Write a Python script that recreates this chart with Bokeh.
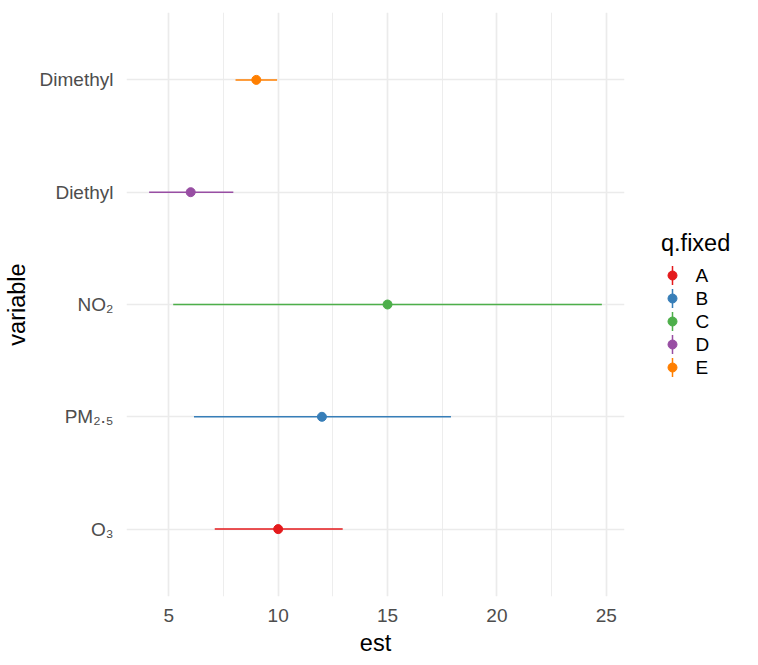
from bokeh.plotting import figure
from bokeh.models import Range1d, FixedTicker, ColumnDataSource
from bokeh.layouts import row
from bokeh.embed import file_html
from bokeh.resources import INLINE
from bokeh.core.properties import value

# ---- data ----
variables = ["O₃", "PM₂.₅", "NO₂", "Diethyl", "Dimethyl"]
groups = ["A", "B", "C", "D", "E"]
est = [10.0, 12.0, 15.0, 6.0, 9.0]
lower = [7.1, 6.15, 5.2, 4.1, 8.05]
upper = [12.95, 17.9, 24.8, 7.95, 9.95]
x_ticks = [5, 10, 15, 20, 25]

# ---- styles ----
colors = ["#E41A1C", "#377EB8", "#4DAF4A", "#984EA3", "#FF7F00"]
FONT = "Liberation Sans"
GRID = "#EBEBEB"
H = 660
TOP, BOTTOM = 12, 64

ypos = list(range(1, len(variables) + 1))
lo, hi = min(lower), max(upper)
pad = 0.05 * (hi - lo)

src = ColumnDataSource(dict(y=ypos, est=est, lower=lower, upper=upper,
                            color=colors, group=groups))

p = figure(width=650, height=H,
           x_range=Range1d(lo - pad, hi + pad),
           y_range=Range1d(0.4, len(variables) + 0.6),
           output_backend="svg", toolbar_location=None,
           min_border_left=123, min_border_right=26,
           min_border_top=TOP, min_border_bottom=BOTTOM)
p.outline_line_color = None
p.background_fill_color = "white"
p.border_fill_color = "white"

minor = [(a + b) / 2 for a, b in zip(x_ticks[:-1], x_ticks[1:])]
p.xaxis.ticker = FixedTicker(ticks=x_ticks, minor_ticks=minor)
p.yaxis.ticker = FixedTicker(ticks=ypos)
p.yaxis.major_label_overrides = {y: v for y, v in zip(ypos, variables)}

for ax in (p.xaxis[0], p.yaxis[0]):
    ax.axis_line_color = None
    ax.major_tick_line_color = None
    ax.minor_tick_line_color = None
    ax.major_tick_out = 0
    ax.major_tick_in = 0
    ax.minor_tick_out = 0
    ax.minor_tick_in = 0
    ax.major_label_text_font = FONT
    ax.major_label_text_font_size = "19px"
    ax.major_label_text_color = "#4D4D4D"
    ax.axis_label_text_font = FONT
    ax.axis_label_text_font_size = "23.5px"
    ax.axis_label_text_font_style = "normal"
    ax.axis_label_text_color = "black"

p.xaxis.axis_label = "est"
p.yaxis.axis_label = "variable"
p.xaxis.major_label_standoff = 12
p.xaxis.axis_label_standoff = 5
p.yaxis.major_label_standoff = 13
p.yaxis.axis_label_standoff = 7

p.xgrid.grid_line_color = GRID
p.xgrid.grid_line_width = 1.7
p.xgrid.minor_grid_line_color = GRID
p.xgrid.minor_grid_line_width = 0.9
p.ygrid.grid_line_color = GRID
p.ygrid.grid_line_width = 1.7

p.segment(x0="lower", y0="y", x1="upper", y1="y", line_color="color",
          line_width=1.5, source=src)
p.scatter(x="est", y="y", size=9, fill_color="color", line_color="color",
          source=src)

# ---- legend panel (coordinates in page pixels) ----
LX0, LW = 650, 108
lf = figure(width=LW, height=H, x_range=Range1d(LX0, LX0 + LW),
            y_range=Range1d(H - BOTTOM, TOP), output_backend="svg",
            toolbar_location=None, x_axis_type=None, y_axis_type=None,
            min_border_left=0, min_border_right=0,
            min_border_top=TOP, min_border_bottom=BOTTOM)
lf.grid.visible = False
lf.outline_line_color = None
lf.background_fill_color = "white"
lf.border_fill_color = "white"

row_y = [275 + 23 * i for i in range(len(groups))]
lsrc = ColumnDataSource(dict(x=[672] * len(groups), y=row_y,
                             y0=[v - 9.5 for v in row_y],
                             y1=[v + 9.5 for v in row_y],
                             color=colors, label=groups,
                             tx=[695] * len(groups)))
lf.segment(x0="x", y0="y0", x1="x", y1="y1", line_color="color",
           line_width=1.5, source=lsrc)
lf.scatter(x="x", y="y", size=9, fill_color="color", line_color="color",
           source=lsrc)
lf.text(x="tx", y="y", text="label", text_font=value(FONT),
        text_font_size="19px", text_baseline="middle", text_align="left",
        text_color="black", source=lsrc)
lf.text(x=[660.5], y=[242], text=["q.fixed"], text_font=value(FONT),
        text_font_size="23.5px", text_baseline="middle", text_align="left",
        text_color="black")

layout = row(p, lf)
open("out.html", "w").write(file_html(layout, INLINE))
